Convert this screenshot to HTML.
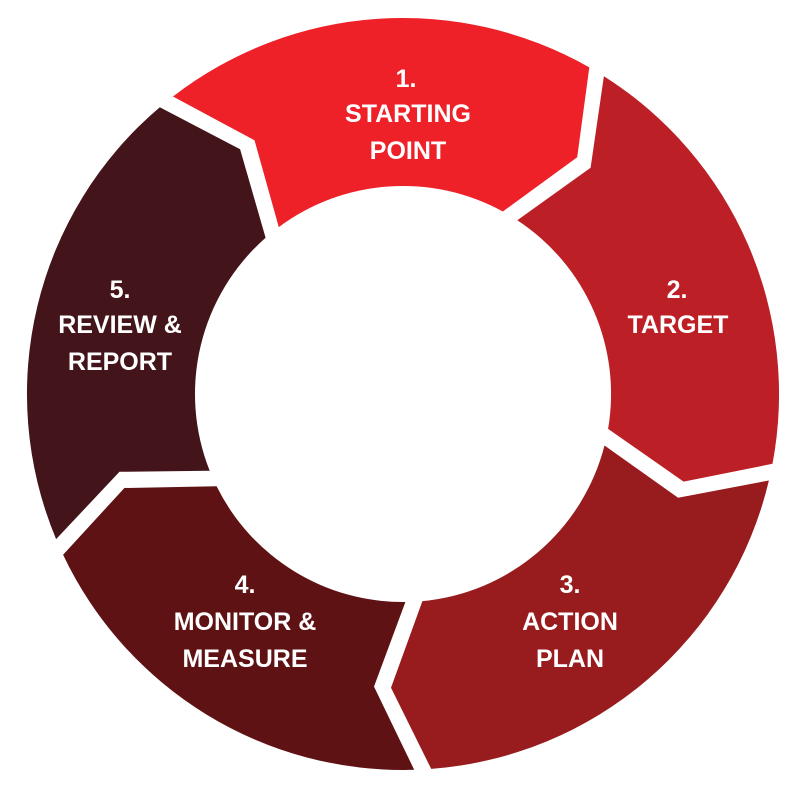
<!DOCTYPE html>
<html><head><meta charset="utf-8"><style>
html,body{margin:0;padding:0;background:#fff;width:805px;height:787px;overflow:hidden}
svg{display:block}
text{font-family:"Liberation Sans",sans-serif;font-weight:bold;font-size:25px;fill:#fff;text-anchor:middle}
</style></head><body>
<svg id="s" width="805" height="787" viewBox="0 0 805 787" xmlns="http://www.w3.org/2000/svg">
<g id="g"></g>
<text x="406" y="87">1.</text><text x="408" y="122">STARTING</text><text x="408" y="159">POINT</text>
<text x="677" y="298">2.</text><text x="678" y="333">TARGET</text>
<text x="570" y="593">3.</text><text x="570" y="630">ACTION</text><text x="570" y="667">PLAN</text>
<text x="245" y="593">4.</text><text x="245" y="630">MONITOR &amp;</text><text x="245" y="667">MEASURE</text>
<text x="120" y="298">5.</text><text x="120" y="333">REVIEW &amp;</text><text x="120" y="370">REPORT</text>
</svg>
<script>
var cx=403,cy=394,R=376,r=208,M=294,H=8.5,D=7;
var B=[321,31,102,177,246];
var C=['#ee2028','#bc1f25','#981b1e','#5f1214','#43141a'];
function P(a,rad){a=a*Math.PI/180;return (cx+rad*Math.sin(a)).toFixed(1)+','+(cy-rad*Math.cos(a)).toFixed(1);}
function ad(rad){return H/rad*180/Math.PI;}
var g=document.getElementById('g'),h='';
for(var i=0;i<5;i++){
 var a=B[i],b=B[(i+1)%5];if(b<a)b+=360;
 var d='M'+P(a+ad(R),R)+' A'+R+','+R+' 0 0 1 '+P(b-ad(R),R)+
 ' L'+P(b+D-ad(M),M)+' L'+P(b-ad(r),r)+
 ' A'+r+','+r+' 0 0 0 '+P(a+ad(r),r)+
 ' L'+P(a+D+ad(M),M)+' Z';
 h+='<path d="'+d+'" fill="'+C[i]+'"/>';
}
g.innerHTML=h;
</script>
</body></html>
